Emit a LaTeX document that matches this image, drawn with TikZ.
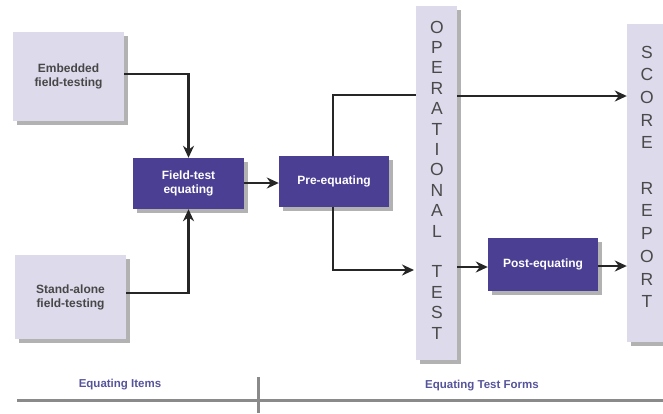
\documentclass[tikz,border=0pt]{standalone}
\usepackage{fontspec}
\setmainfont{Liberation Sans}
\usetikzlibrary{arrows.meta,shadows}
\definecolor{lightbox}{HTML}{DCDAEB}
\definecolor{darkbox}{HTML}{4B3F93}
\definecolor{lettergray}{HTML}{4A4A4A}
\definecolor{labelcol}{HTML}{55549A}
\definecolor{rulegray}{HTML}{8A8A8A}
\tikzset{
  shad/.style={drop shadow={shadow xshift=3.5pt,shadow yshift=-3.5pt,fill=black,opacity=0.3}},
  lightnode/.style={shad,fill=lightbox,minimum width=111pt,align=center,font=\bfseries\fontsize{12}{14}\selectfont,text=black!72,inner sep=0pt},
  darknode/.style={shad,fill=darkbox,minimum width=110pt,align=center,font=\bfseries\fontsize{12}{14}\selectfont,text=white,inner sep=0pt},
  barnode/.style={shad,fill=lightbox,inner sep=0pt},
  barletter/.style={font=\fontsize{17.5}{17.5}\selectfont,text=lettergray,anchor=center,inner sep=0pt},
  conn/.style={line width=2.2pt,black!85},
  arr/.style={conn,-{Stealth[length=12pt,width=11pt]}},
  bottomlabel/.style={font=\bfseries\fontsize{11.5}{13}\selectfont,text=labelcol},
  rulel/.style={line width=3pt,rulegray}
}
\begin{document}
\begin{tikzpicture}[x=1pt,y=-1pt]
\useasboundingbox (0,0) rectangle (663,413);
% bars
\node[barnode,minimum width=41pt,minimum height=354pt] (op) at (436.5,183) {};
\node[barnode,minimum width=40pt,minimum height=318pt] (sr) at (647,183) {};
\foreach \l [count=\i from 0] in {O,P,E,R,A,T,I,O,N,A,L,{},T,E,S,T}{
  \node[barletter] (opl\i) at (437,{27+20.4*\i}) {\l};
}
\foreach \l [count=\i from 0] in {S,C,O,R,E,{},R,E,P,O,R,T}{
  \node[barletter] (srl\i) at (647,{52+22.7*\i}) {\l};
}
% boxes
\node[lightnode,minimum height=89pt] (emb) at (68.5,76.5) {Embedded\\field-testing};
\node[lightnode,minimum height=84pt] (sta) at (70.5,297) {Stand-alone\\field-testing};
\node[darknode,minimum width=111pt,minimum height=51pt] (fte) at (188.5,183.5) {Field-test\\equating};
\node[darknode,minimum height=51pt] (pre) at (334,181.5) {Pre-equating};
\node[darknode,minimum height=53pt] (post) at (543,264.5) {Post-equating};
% connectors
\draw[arr] (emb.east |- 0,74) -| (fte.north);
\draw[arr] (sta.east |- 0,293) -| (fte.south);
\draw[arr] (fte.east |- 0,183) -- (pre.west |- 0,183);
\coordinate (preT) at (333,156);
\coordinate (preB) at (333,207);
\draw[conn] (preT) |- (op.west |- 0,95);
\draw[arr] (preB) |- (414,270);
\draw[arr] (op.east |- 0,96) -- (sr.west |- 0,96);
\draw[arr] (op.east |- 0,267) -- (post.west |- 0,267);
\draw[arr] (post.east |- 0,266) -- (sr.west |- 0,266);
% bottom
\node[bottomlabel] (l1) at (120,385) {Equating Items};
\node[bottomlabel] (l2) at (482,386) {Equating Test Forms};
\coordinate (r0) at (17,400);
\coordinate (r1) at (663,400);
\coordinate (d0) at (258,377);
\coordinate (d1) at (258,413);
\draw[rulel] (r0) -- (r1);
\draw[rulel] (d0) -- (d1);
\end{tikzpicture}
\end{document}
